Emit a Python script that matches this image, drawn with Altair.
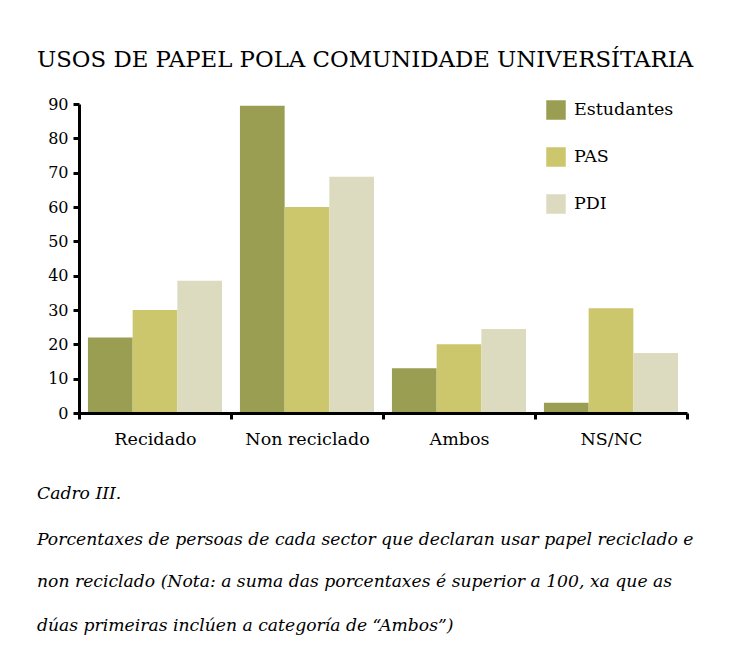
import altair as alt
import pandas as pd

categories = ["Recidado", "Non reciclado", "Ambos", "NS/NC"]
series = ["Estudantes", "PAS", "PDI"]
estudantes = [22, 89.5, 13, 3]
pas = [30, 60, 20, 30.5]
pdi = [38.5, 68.8, 24.5, 17.5]
colors = ["#999E52", "#CCC66D", "#DCDBC0"]
y_ticks = [0, 10, 20, 30, 40, 50, 60, 70, 80, 90]

title_text = "USOS DE PAPEL POLA COMUNIDADE UNIVERSÍTARIA"
caption_lines = [
    "Cadro III.",
    "Porcentaxes de persoas de cada sector que declaran usar papel reciclado e",
    "non reciclado (Nota: a suma das porcentaxes é superior a 100, xa que as",
    "dúas primeiras inclúen a categoría de \u201cAmbos\u201d)",
]

rows = []
for s, vals in zip(series, [estudantes, pas, pdi]):
    for c, v in zip(categories, vals):
        rows.append({"categoria": c, "grupo": s, "valor": v})
df = pd.DataFrame(rows)

FONT = "DejaVu Serif"

bars = alt.Chart(df).mark_bar().encode(
    x=alt.X("categoria:N", sort=categories,
            scale=alt.Scale(paddingInner=0, paddingOuter=0),
            axis=alt.Axis(title=None, labelAngle=0, tickBand="extent", zindex=1,
                          domainColor="black", domainWidth=3, tickColor="black",
                          tickWidth=3, tickSize=6, labelFont=FONT, labelFontSize=17.5,
                          labelColor="black", labelPadding=11)),
    xOffset=alt.XOffset("grupo:N", sort=series,
                        scale=alt.Scale(paddingInner=0, paddingOuter=0.2)),
    y=alt.Y("valor:Q", scale=alt.Scale(domain=[0, 90], nice=False),
            axis=alt.Axis(title=None, values=y_ticks, grid=False, zindex=1,
                          domainColor="black", domainWidth=3, tickColor="black",
                          tickWidth=3, tickSize=6, labelFont=FONT, labelFontSize=16,
                          labelColor="black", labelPadding=5)),
    color=alt.Color("grupo:N", sort=series,
                    scale=alt.Scale(domain=series, range=colors),
                    legend=alt.Legend(title=None, orient="none", legendX=467, legendY=-4,
                                      symbolType="square", symbolSize=380,
                                      symbolStrokeWidth=0, symbolOpacity=1,
                                      labelFont=FONT, labelFontSize=17.5, labelColor="black",
                                      rowPadding=27, labelOffset=8)),
)

layers = [bars]
title_layer = alt.Chart(pd.DataFrame({"t": [title_text]})).mark_text(
    align="left", baseline="middle", font=FONT, fontSize=22.8, color="black"
).encode(text="t:N", x=alt.value(-42), y=alt.value(-44))
layers.append(title_layer)

cap_y = [390, 436, 478, 522]
for line, yy in zip(caption_lines, cap_y):
    layers.append(alt.Chart(pd.DataFrame({"t": [line]})).mark_text(
        align="left", baseline="middle", font=FONT, fontSize=17.2, fontStyle="italic",
        color="black"
    ).encode(text="t:N", x=alt.value(-42), y=alt.value(yy)))

chart = alt.layer(*layers).properties(
    width=608, height=309,
    autosize=alt.AutoSizeParams(type="none"),
    padding={"left": 71, "top": 96, "right": 36, "bottom": 230},
    background="white",
).configure_view(stroke=None)

chart.save("out.html", embed_options={"renderer": "svg", "actions": False})
